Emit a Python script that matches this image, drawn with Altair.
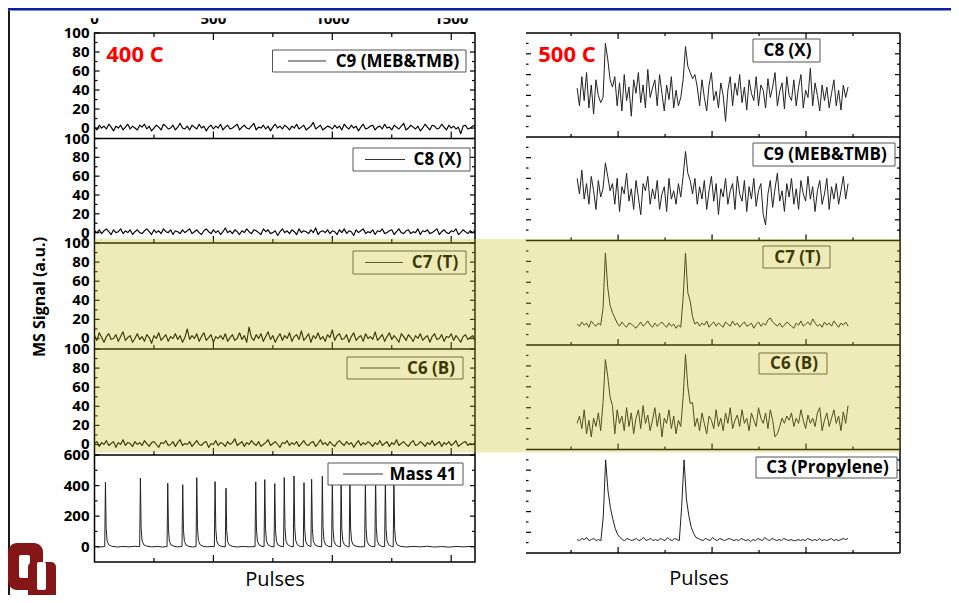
import altair as alt
import numpy as np
import pandas as pd

# ---------------- data: 400 C (left stack), x = pulses ----------------
pulse_span = [0, 1600]
c9_400 = [1,-2,3,0,2,-1,4,1,-3,2,0,3,-2,1,4,-1,2,0,-2,3,
          1,4,-1,2,-3,0,3,1,-2,4,2,-1,0,3,-2,1,5,0,-1,2,
          -2,3,1,-1,4,0,2,-3,1,3,-1,2,0,4,-2,1,3,-1,0,2,
          4,-2,1,3,0,-1,2,5,-2,1,0,3,-1,2,-3,1,4,0,2,-1,
          3,1,-2,2,0,4,-1,1,3,-2,0,2,6,-1,1,3,-2,0,2,1,
          -1,3,0,2,-2,4,1,-1,3,0,2,-3,1,4,-1,0,2,3,-2,1,
          2,-1,4,0,1,-2,3,1,-1,2,5,-2,0,3,1,-1,2,-3,0,4,
          1,-2,3,2,-1,0,4,1,-2,3,0,2,-1,1,-6,2,3,-1,0,2,3]
c8_400 = [2,0,3,-1,2,4,1,-2,3,0,1,4,-1,2,0,3,-2,1,3,0,
          -1,2,4,1,-2,3,0,2,-1,4,1,0,3,-2,2,1,-1,3,0,2,
          4,-1,1,3,0,-2,2,4,1,-1,3,0,2,-2,1,5,0,2,-1,3,
          1,-2,2,0,4,1,-1,3,2,0,-2,4,1,3,-1,0,2,-3,1,4,
          0,2,-1,3,1,-2,4,0,2,1,-1,3,0,5,-2,1,2,0,3,-1,
          2,1,-2,3,0,4,-1,2,1,-3,3,0,2,4,-1,1,0,3,-2,2,
          1,4,-1,0,2,3,-2,1,4,0,-1,2,3,-1,1,0,4,-2,2,1,
          3,-1,0,2,4,-2,1,3,0,-1,2,1,4,-2,0,3,1,-1,2,0,2]
c7_400 = [3,-2,6,1,-4,2,5,-1,0,4,-3,2,7,-2,1,3,-4,0,5,-1,
          2,-3,4,1,-5,3,0,6,-2,1,4,-3,2,0,5,-1,3,-4,1,10,
          -1,3,0,5,-3,2,6,-2,1,4,-4,2,0,3,-1,5,-3,1,4,-2,
          0,6,-1,3,-4,12,1,-2,4,0,5,-3,2,7,-1,3,-4,1,5,-2,
          3,0,6,-3,2,4,-1,8,-2,1,5,-4,3,0,6,-1,2,-3,4,1,
          9,-2,3,5,-1,0,4,-4,2,6,-2,1,3,-3,5,0,2,-1,7,-2,
          1,4,-3,2,6,-1,3,0,-4,5,2,-2,4,1,-3,3,0,5,-2,1,
          3,-4,2,5,-1,0,4,-3,2,1,5,-2,3,0,-4,2,4,-1,1,3,-2]
c6_400 = [1,3,-2,2,0,4,-1,1,3,-3,2,0,5,-1,2,1,-2,3,0,2,
          -1,4,1,-2,2,3,0,-3,2,1,4,-1,0,3,-2,2,5,-1,1,0,
          3,-2,1,4,0,-1,2,3,-3,1,0,4,-1,2,1,-2,3,0,2,6,
          -1,1,3,-2,2,0,4,1,-1,3,-2,0,2,5,-1,1,3,0,-3,2,
          1,4,-1,2,0,3,-2,1,4,0,-1,2,3,-2,1,5,0,2,-1,3,
          0,-2,2,4,1,-1,3,0,2,-3,1,4,-1,2,0,3,1,-2,2,0,
          4,-1,1,3,-2,2,0,5,-1,1,3,0,-2,2,4,-1,0,3,1,-2,
          2,0,4,-1,1,3,-2,2,0,3,-1,1,4,-2,0,2,3,-1,1,0,2]
m41_x = [0,20,43,46,49,53,60,72,95,120,145,170,190,
         193,196,200,207,219,240,265,285,305,
         308,311,315,322,334,350,368,
         371,374,378,385,397,412,427,
         430,433,437,444,456,475,490,504,
         507,510,514,521,533,550,
         553,556,560,567,579,600,625,650,675,
         678,681,685,692,704,713,
         716,719,723,730,742,755,
         758,761,765,772,784,795,
         798,801,805,812,824,836,
         839,842,846,853,865,878,
         881,884,888,895,907,910,
         913,916,920,927,939,955,
         958,961,965,972,984,997,
         1000,1003,1007,1014,1026,1034,
         1037,1040,1044,1051,1063,1071,
         1074,1077,1081,1088,1100,1118,1136,
         1139,1142,1146,1153,1165,1179,
         1182,1185,1189,1196,1208,1220,
         1223,1226,1230,1237,1249,1256,
         1259,1262,1266,1273,1285,1310,1340,1370,1400,1430,1460,1490,1520,1550,1580,1600]
m41_y = [3,-2,1,422,118,38,12,3,-2,2,-1,3,0,
         448,122,40,13,4,-1,2,-2,1,
         415,115,36,12,3,-1,2,
         406,112,35,11,2,-2,1,
         452,124,40,13,3,-1,2,0,
         426,118,37,12,2,-1,
         383,105,33,10,3,-2,2,-1,1,
         424,116,37,12,2,0,
         439,120,38,12,2,-1,
         413,113,36,11,2,0,
         452,124,40,13,3,-1,
         463,127,41,13,2,0,
         419,115,37,12,2,0,
         441,121,38,12,3,-1,
         461,126,40,13,2,0,
         440,121,38,12,2,0,
         430,118,37,12,2,-1,
         445,122,39,12,3,-1,1,
         425,117,37,12,2,0,
         450,123,39,13,2,0,
         435,119,38,12,2,-1,
         440,121,38,12,3,-2,2,-1,3,-2,1,-3,2,-1,2,0]

# ---------------- data: 500 C (right stack) ----------------
sample_span = [0.128, 5.894]
c8_500 = [47,30,58,35,62,28,50,22,55,40,33,38,
          90,75,55,48,
          58,30,52,25,60,35,48,20,55,42,62,33,50,28,65,38,47,55,30,60,42,25,50,36,58,28,45,30,38,55,
          87,68,62,56,60,
          48,30,55,38,25,50,62,35,44,28,52,40,
          15,
          45,58,30,52,40,60,33,48,26,55,42,35,58,30,50,45,28,56,38,48,62,30,44,52,27,58,40,35,55,30,48,60,28,45,38,
          66,
          30,52,40,25,50,35,48,28,42,55,30,45,26,50,38,48]
c9_500 = [60,45,68,40,55,35,62,48,30,58,42,50,
          75,62,48,
          55,35,60,28,52,45,65,38,50,30,58,42,25,55,48,62,35,50,40,58,30,45,52,28,60,40,48,35,55,42,62,
          86,65,58,
          45,60,35,52,40,58,30,48,62,38,55,25,50,42,60,35,48,55,30,62,45,38,58,28,52,40,60,33,48,55,25,
          15,
          45,58,32,50,65,38,48,28,55,42,60,35,50,30,58,45,38,62,40,52,28,48,58,35,45,60,30,52,40,55,35,48,62,40,55]
c7_500 = [20,18,22,19,21,17,23,20,18,21,19,35,
          88,55,38,31,26,
          21,18,22,19,17,21,20,18,16,19,22,18,20,23,19,17,21,18,20,22,19,17,21,18,20,16,19,17,
          45,88,50,42,27,
          20,22,18,21,19,23,17,20,22,18,21,19,17,22,20,18,23,19,21,17,20,22,18,19,21,16,20,22,18,21,
          19,24,26,22,20,18,21,17,19,22,20,18,16,21,19,23,18,20,22,19,25,21,18,20,17,22,19,21,18,23,
          20,17,21,19,22,18]
c6_500 = [25,32,20,38,15,28,12,30,22,35,18,45,
          86,70,50,42,
          15,38,25,32,18,40,22,35,15,30,38,20,42,25,33,18,28,40,22,35,12,30,25,38,20,32,15,28,22,50,
          91,60,44,45,
          22,30,18,35,25,15,32,28,20,38,22,30,18,35,25,40,20,28,33,22,38,25,30,18,35,28,22,40,30,25,
          35,20,38,28,12,15,22,30,25,32,28,35,22,30,25,38,28,20,33,25,30,22,35,40,18,28,35,22,30,38,
          25,32,18,36,25,42]
c3_500 = [13,12,14,13,15,12,13,14,12,13,12,35,
          90,60,44,33,24,18,15,
          13,12,14,13,12,13,14,12,13,15,12,13,14,12,13,12,14,13,12,15,13,12,14,13,12,45,
          90,52,36,25,19,15,14,
          13,12,14,13,12,15,13,12,14,13,12,13,14,13,12,13,12,14,13,12,13,11,13,12,14,13,12,15,13,12,
          14,13,12,13,12,14,13,12,13,12,12,13,12,13,12,14,13,12,13,12,14,12,13,12,13,14,12,13,12,13,
          14,13,14]

left_names = ["C9 (MEB&TMB)", "C8 (X)", "C7 (T)", "C6 (B)", "Mass 41"]
right_names = ["C8 (X)", "C9 (MEB&TMB)", "C7 (T)", "C6 (B)", "C3 (Propylene)"]
ms_major = [0, 20, 40, 60, 80, 100]
ms_minor = [10, 30, 50, 70, 90]
m41_major = [0, 200, 400, 600]
m41_minor = [100, 300, 500]
pulse_labels = [0, 500, 1000, 1500]
pulse_major = [500, 1000, 1500]
pulse_minor = [250, 750, 1250]
r_x_major = [1, 3, 5]
r_x_minor = [0, 2, 4, 6]
r_y_major = [20, 40, 60, 80]
r_y_minor = [10, 30, 50, 70, 90]

# ---------------- layout ----------------
OFF = 8
def P(v):
    return v - OFF

FONT = "Open Sans"
one = pd.DataFrame({"k": [0]})
layers = []

def qscale(dom, r0, r1):
    return alt.Scale(domain=dom, range=[P(r0), P(r1)], nice=False, zero=False)

def trace(xs, ys, xsc, ysc, color="black", w=1.0):
    df = pd.DataFrame({"x": xs, "y": ys})
    layers.append(alt.Chart(df).mark_line(color=color, strokeWidth=w, strokeJoin="round").encode(
        x=alt.X("x:Q", scale=xsc, axis=None), y=alt.Y("y:Q", scale=ysc, axis=None)))

def yticks(vals, ysc, xa, xb):
    df = pd.DataFrame({"v": vals})
    layers.append(alt.Chart(df).mark_rule(color="black", strokeWidth=1.2).encode(
        y=alt.Y("v:Q", scale=ysc, axis=None), x=alt.value(P(xa)), x2=alt.value(P(xb))))

def xticks(vals, xsc, ya, yb):
    df = pd.DataFrame({"v": vals})
    layers.append(alt.Chart(df).mark_rule(color="black", strokeWidth=1.2).encode(
        x=alt.X("v:Q", scale=xsc, axis=None), y=alt.value(P(ya)), y2=alt.value(P(yb))))

def ylabels(vals, ysc, xr):
    df = pd.DataFrame({"v": vals, "t": [str(v) for v in vals]})
    layers.append(alt.Chart(df).mark_text(align="right", baseline="middle", font=FONT, fontSize=15,
                                          fontWeight="bold", color="black").encode(
        y=alt.Y("v:Q", scale=ysc, axis=None), x=alt.value(P(xr)), text="t:N"))

def hline(x0, x1, y, w=1.5, color="black"):
    layers.append(alt.Chart(one).mark_rule(color=color, strokeWidth=w).encode(
        x=alt.value(P(x0)), x2=alt.value(P(x1)), y=alt.value(P(y))))

def vline(x, y0, y1, w=1.5, color="black"):
    layers.append(alt.Chart(one).mark_rule(color=color, strokeWidth=w).encode(
        y=alt.value(P(y0)), y2=alt.value(P(y1)), x=alt.value(P(x))))

def rect(x0, x1, y0, y1, **kw):
    layers.append(alt.Chart(one).mark_rect(**kw).encode(
        x=alt.value(P(x0)), x2=alt.value(P(x1)), y=alt.value(P(y0)), y2=alt.value(P(y1))))

def text(x, y, s, **kw):
    layers.append(alt.Chart(one).mark_text(**kw).encode(
        x=alt.value(P(x)), y=alt.value(P(y)), text=alt.value(s)))

# ----- left stack (400 C) -----
LX0, LX1 = 94.5, 475
L_edges = [33, 138.5, 243, 349, 455, 562]
lxs = qscale(pulse_span, LX0, LX1)
left_series = [c9_400, c8_400, c7_400, c6_400]
for i in range(5):
    top, bot = L_edges[i], L_edges[i + 1]
    if i < 4:
        ysc = qscale([-11, 100], bot, top)
        vals = left_series[i]
        trace(np.linspace(pulse_span[0], pulse_span[1], len(vals)), vals, lxs, ysc, "black", 1.15)
        maj, mnr = ms_major, ms_minor
    else:
        ysc = qscale([-100, 600], bot, top)
        trace(m41_x, m41_y, lxs, ysc, "#222222", 1.0)
        maj, mnr = m41_major, m41_minor
    yticks(maj, ysc, LX0, LX0 + 5)
    yticks(mnr, ysc, LX0, LX0 + 3)
    yticks(maj, ysc, LX1 - 5, LX1)
    yticks(mnr, ysc, LX1 - 3, LX1)
    xticks(pulse_major, lxs, bot - 7, bot)
    xticks(pulse_minor, lxs, bot - 4, bot)
    if i == 0:
        xticks(pulse_major, lxs, top, top + 7)
        xticks(pulse_minor, lxs, top, top + 4)
    ylabels(maj, ysc, 89.5)

# left legends: box, sample line, label
left_leg = [(272.5, 466, 50, 72, 288, 326, 397.5),
            (353, 470, 148, 171, 365, 405, 437.5),
            (353, 466, 251, 274, 365, 403, 435),
            (347, 463, 357, 379, 360, 400, 431),
            (328, 463, 463, 485, 343, 383, 423)]
for name, (bx0, bx1, by0, by1, lx0, lx1, tx) in zip(left_names, left_leg):
    rect(bx0, bx1, by0, by1, fill="white", stroke="#555555", strokeWidth=1)
    hline(lx0, lx1, (by0 + by1) / 2, w=1, color="#333333")
    text(tx, (by0 + by1) / 2 + 0.5, name, align="center", baseline="middle", font=FONT,
         fontSize=17, fontWeight="bold", color="black")

# left frame
rect(LX0, LX1, 33, 562, fill=None, filled=False, stroke="black", strokeWidth=1.5)
for y in L_edges[1:-1]:
    hline(LX0, LX1, y)

# top pulse labels (half hidden under slide title area)
df_top = pd.DataFrame({"v": pulse_labels, "t": [str(v) for v in pulse_labels]})
layers.append(alt.Chart(df_top).mark_text(align="center", baseline="alphabetic", font=FONT, fontSize=15,
                                          fontWeight="bold", color="black").encode(
    x=alt.X("v:Q", scale=lxs, axis=None), y=alt.value(P(23.5)), text="t:N"))

# ----- right stack (500 C) -----
RX0, RX1 = 526, 900
R_edges = [33, 137, 240.5, 345, 449.5, 553]
rxs = qscale([-0.96, 7.0], RX0, RX1)
right_series = [c8_500, c9_500, c7_500, c6_500, c3_500]
for i in range(5):
    top, bot = R_edges[i], R_edges[i + 1]
    ysc = qscale([0, 100], bot, top)
    vals = right_series[i]
    trace(np.linspace(sample_span[0], sample_span[1], len(vals)), vals, rxs, ysc, "#222222", 1.0)
    yticks(r_y_major, ysc, RX0, RX0 + 5)
    yticks(r_y_minor, ysc, RX0, RX0 + 2.5)
    yticks(r_y_major, ysc, RX1 - 5, RX1)
    yticks(r_y_minor, ysc, RX1 - 3, RX1)
    xticks(r_x_major, rxs, bot - 6, bot)
    xticks(r_x_minor, rxs, bot - 3, bot)
    if i == 0:
        xticks(r_x_major, rxs, top, top + 6)
        xticks(r_x_minor, rxs, top, top + 3)

right_leg = [(753, 820, 39, 62), (753, 895, 143, 166), (763, 830, 246, 268),
             (759, 827, 353, 374), (756, 897, 457, 478)]
for name, (bx0, bx1, by0, by1) in zip(right_names, right_leg):
    rect(bx0, bx1, by0, by1, fill="white", stroke="#555555", strokeWidth=1)
    text((bx0 + bx1) / 2 + 1, (by0 + by1) / 2 + 0.5, name, align="center", baseline="middle", font=FONT,
         fontSize=17, fontWeight="bold", color="black")

for y in R_edges:
    hline(RX0, RX1, y)
vline(RX1, 33, 553)

# temperature tags
text(135, 55, "400 C", align="center", baseline="middle", font=FONT, fontSize=22, fontWeight="bold", color="#ff0000")
text(567, 55, "500 C", align="center", baseline="middle", font=FONT, fontSize=22, fontWeight="bold", color="#ff0000")

# yellow highlight over C7 / C6 rows
rect(LX0, RX1, 239, 452.5, fill="#c8be14", opacity=0.3)

# axis titles
text(40, 297, "MS Signal (a.u.)", angle=270, align="center", baseline="middle", font=FONT,
     fontSize=16, fontWeight="bold", color="black")
text(275, 580, "Pulses", align="center", baseline="middle", font=FONT, fontSize=20, color="black")
text(699, 579, "Pulses", align="center", baseline="middle", font=FONT, fontSize=20, color="black")

# slide decorations: title strip (hides upper half of the top labels), frame line, logo
rect(8, 951, 10, 18.2, fill="white", opacity=1)
rect(8, 951, 8, 10.5, fill="#0a1f9c")
vline(9, 10.5, 603, w=1.8)
rect(8, 43, 543, 590, fill="#841617", cornerRadius=9)
rect(19, 30, 555, 578, fill="white", cornerRadius=2)
rect(28, 56, 562, 602, fill="#841617", cornerRadius=5)
rect(37, 46, 562, 590, fill="white", cornerRadius=2)

chart = alt.layer(*layers).resolve_scale(x="independent", y="independent").properties(
    width=943, height=587, padding=0, autosize=alt.AutoSizeParams(type="none")
).configure_view(stroke=None)

chart.save("out.html", embed_options={"renderer": "svg", "actions": False})
